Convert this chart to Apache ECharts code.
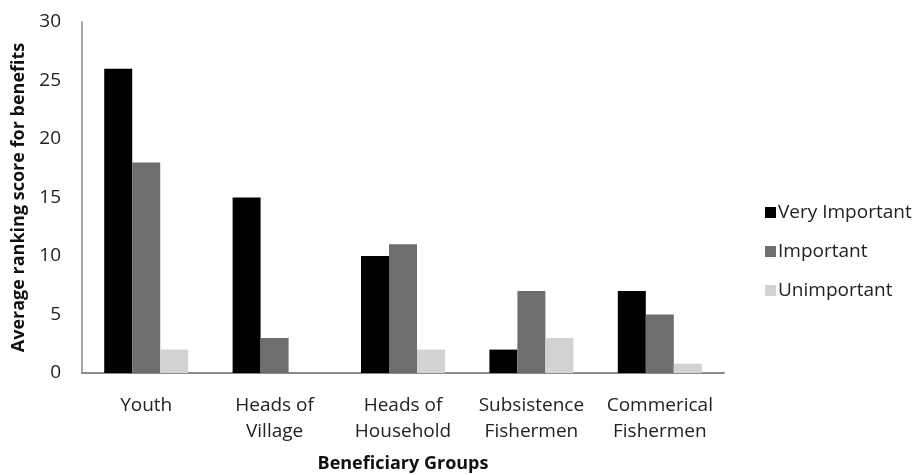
<!DOCTYPE html>
<html>
<head>
<meta charset="utf-8">
<script src="https://cdn.jsdelivr.net/npm/echarts@6/dist/echarts.min.js"></script>
<style>
  html, body { margin: 0; padding: 0; background: #fff; }
  #chart { width: 919px; height: 475px; }
</style>
</head>
<body>
<div id="chart"></div>
<script>
// Beneficiary groups (x-axis categories)
const categories = [
  'Youth',
  'Heads of\nVillage',
  'Heads of\nHousehold',
  'Subsistence\nFishermen',
  'Commerical\nFishermen'
];

// Average ranking scores per importance level
const veryImportant = [26, 15, 10, 2, 7];
const important     = [18, 3, 11, 7, 5];
const unimportant   = [2, 0, 2, 3, 0.8];

const seriesNames = ['Very Important', 'Important', 'Unimportant'];
const seriesColors = ['#000000', '#6e6e6e', '#d2d2d2'];
const seriesData = [veryImportant, important, unimportant];

const FONT = '"Open Sans", Lato, sans-serif';

const chart = echarts.init(document.getElementById('chart'));

chart.setOption({
  animation: false,
  backgroundColor: '#ffffff',
  textStyle: { fontFamily: FONT, color: '#222' },
  grid: {
    left: 82, top: 22, width: 642, height: 351,
    containLabel: false,
    outerBoundsMode: 'none'
  },
  legend: {
    orient: 'vertical',
    left: 760,
    top: 198,
    itemWidth: 11,
    itemHeight: 11,
    itemGap: 20,
    icon: 'rect',
    data: seriesNames,
    textStyle: { fontFamily: FONT, fontSize: 19, color: '#222', padding: [0, 0, 0, -3] }
  },
  xAxis: {
    type: 'category',
    data: categories,
    name: 'Beneficiary Groups',
    nameLocation: 'middle',
    nameGap: 82,
    nameTextStyle: { fontFamily: FONT, fontSize: 18, fontWeight: 'bold', color: '#111' },
    axisLine: { lineStyle: { color: '#8a8a8a', width: 2 } },
    axisTick: { show: false },
    axisLabel: {
      fontFamily: FONT, fontSize: 19, color: '#222',
      margin: 20, lineHeight: 26, interval: 0
    }
  },
  yAxis: {
    type: 'value',
    min: 0,
    max: 30,
    interval: 5,
    name: 'Average ranking score for benefits',
    nameLocation: 'middle',
    nameGap: 53,
    nameTextStyle: { fontFamily: FONT, fontSize: 18, fontWeight: 'bold', color: '#111' },
    axisLine: { show: true, lineStyle: { color: '#8a8a8a', width: 1.5 } },
    axisTick: { show: false },
    splitLine: { show: false },
    axisLabel: { fontFamily: FONT, fontSize: 19, color: '#222', margin: 21 }
  },
  series: seriesData.map((data, i) => ({
    name: seriesNames[i],
    type: 'bar',
    data: data,
    barWidth: 28,
    barGap: '0%',
    itemStyle: { color: seriesColors[i] }
  }))
});
</script>
</body>
</html>
